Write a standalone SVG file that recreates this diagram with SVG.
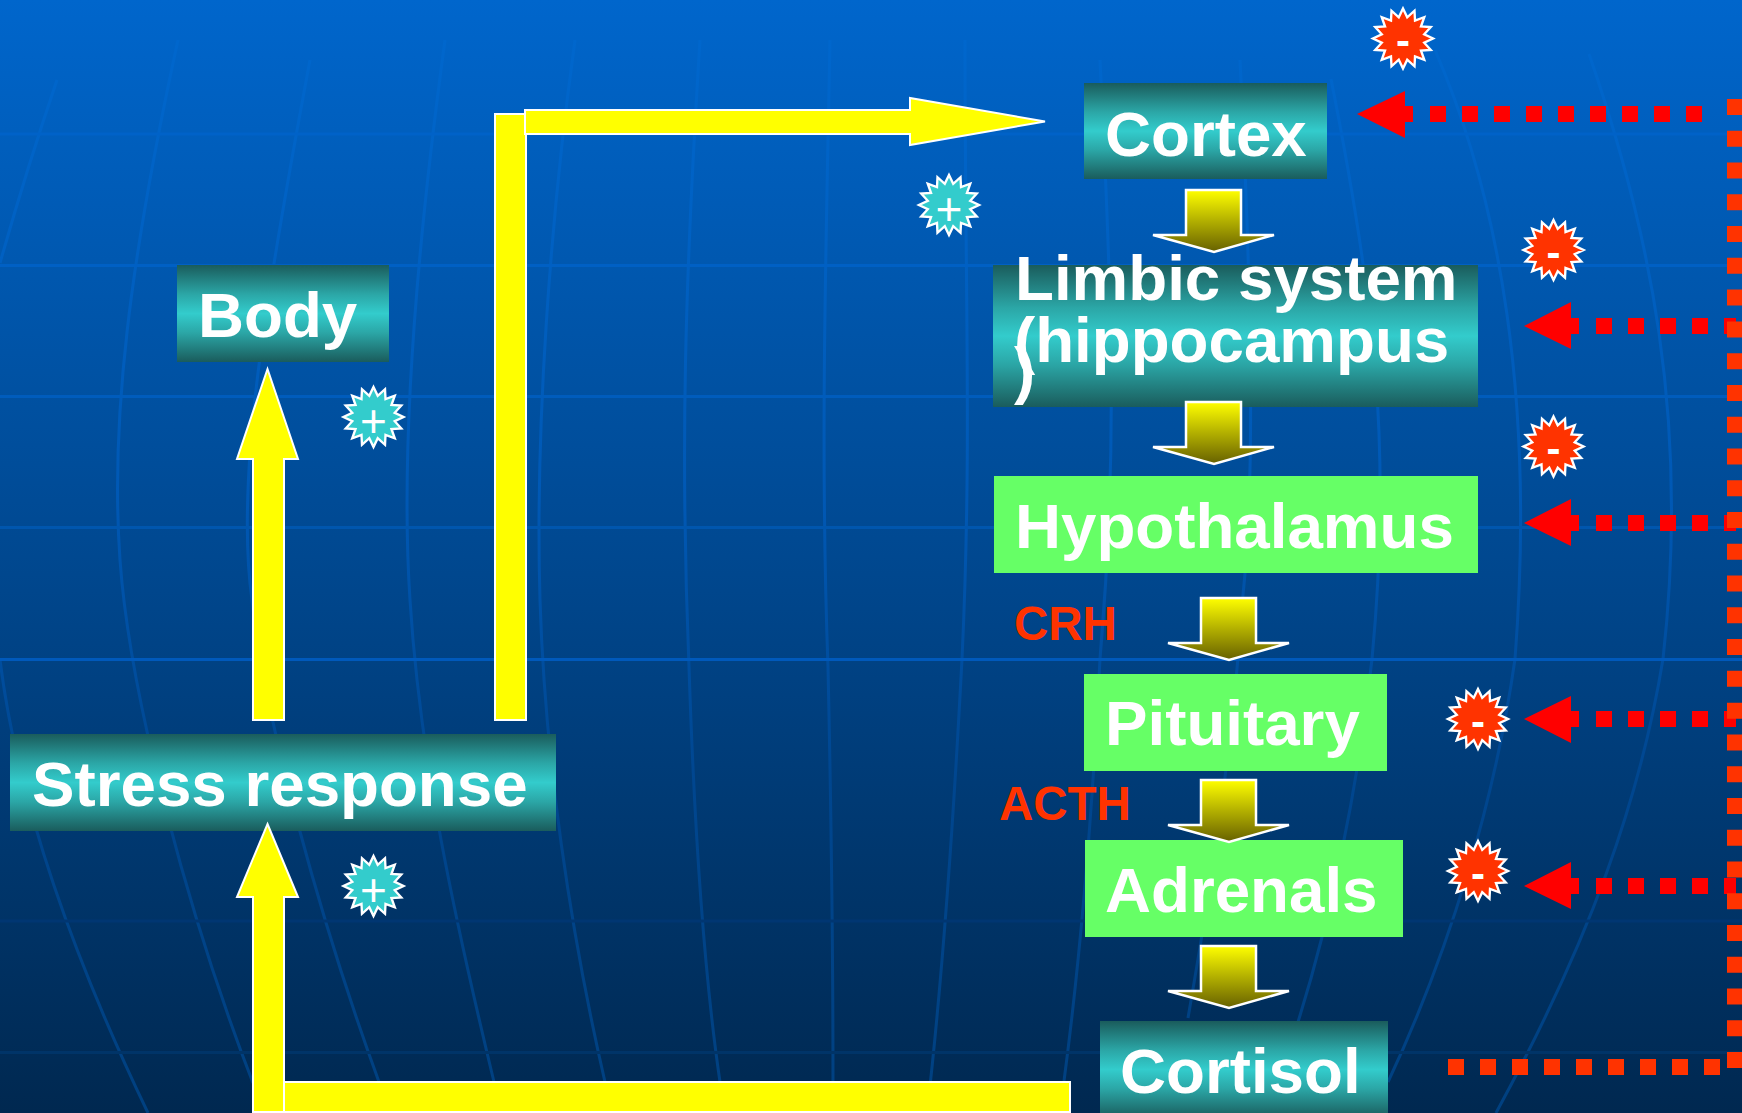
<svg xmlns="http://www.w3.org/2000/svg" width="1742" height="1113" viewBox="0 0 1742 1113">
<defs>
<linearGradient id="bg" x1="0" y1="0" x2="0" y2="1"><stop offset="0" stop-color="#0066cc"/><stop offset="0.5" stop-color="#004890"/><stop offset="1" stop-color="#002850"/></linearGradient>
<linearGradient id="grid" gradientUnits="userSpaceOnUse" x1="0" y1="0" x2="0" y2="1113"><stop offset="0" stop-color="#0068cf"/><stop offset="0.45" stop-color="#0058b4"/><stop offset="0.7" stop-color="#00468f"/><stop offset="1" stop-color="#004080"/></linearGradient>
<linearGradient id="teal" x1="0" y1="0" x2="0" y2="1"><stop offset="0" stop-color="#1a5c5c"/><stop offset="0.3" stop-color="#2ba6a6"/><stop offset="0.5" stop-color="#33cccc"/><stop offset="0.7" stop-color="#2ba6a6"/><stop offset="1" stop-color="#1a5c5c"/></linearGradient>
<linearGradient id="olive" x1="0" y1="0" x2="0" y2="1"><stop offset="0" stop-color="#ffff00"/><stop offset="1" stop-color="#666000"/></linearGradient>
<polygon id="star" transform="scale(.94)" points="0,-32 4.49,-22.56 12.25,-29.56 12.78,-19.12 22.63,-22.63 19.12,-12.78 29.56,-12.25 22.56,-4.49 32,0 22.56,4.49 29.56,12.25 19.12,12.78 22.63,22.63 12.78,19.12 12.25,29.56 4.49,22.56 0,32 -4.49,22.56 -12.25,29.56 -12.78,19.12 -22.63,22.63 -19.12,12.78 -29.56,12.25 -22.56,4.49 -32,0 -22.56,-4.49 -29.56,-12.25 -19.12,-12.78 -22.63,-22.63 -12.78,-19.12 -12.25,-29.56 -4.49,-22.56"/>
<polygon id="down" points="-28,0 27,0 27,45 60,45 0,62 -61,45 -28,45"/>
</defs>
<style>
.lbl{font-family:"Liberation Sans",Arial,sans-serif;font-weight:700;font-size:63.7px;fill:#fff}
.hormone{font-family:"Liberation Sans",Arial,sans-serif;font-weight:700;font-size:47.5px;fill:#ff3300}
.sign{font-family:"Liberation Sans",Arial,sans-serif;font-weight:700;font-size:42px;fill:#fff;text-anchor:middle}
.signp{font-family:"Liberation Sans",Arial,sans-serif;font-weight:400;font-size:46px;fill:#fff;text-anchor:middle}
.teal{fill:url(#teal)}
.green{fill:#66ff66}
.yellow{fill:#ffff00;stroke:#fff;stroke-width:2}
.olive{fill:url(#olive);stroke:#fff;stroke-width:2.5}
.minus{fill:#ff3300;stroke:#fff;stroke-width:2.5}
.plus{fill:#33cccc;stroke:#fff;stroke-width:2.5}
.head{fill:#ff0000}
.dash{stroke:#ff0000;stroke-width:16;stroke-dasharray:16 16;fill:none}
.grid{fill:none;stroke:url(#grid);stroke-width:3}
</style>
<rect width="1742" height="1113" fill="url(#bg)"/>
<g id="background-grid">
<path class="grid" d="M57,80C40,130 15,210 0,263M0,660C15,780 60,930 148,1113M178,40C130,260 110,420 120,560C130,700 190,920 253,1083M310,60C265,300 235,480 252,600C265,720 320,920 379,1082M445,40C415,260 400,450 410,600C420,760 455,920 494,1082M575,40C550,220 535,430 540,600C545,760 570,930 605,1082M700,40C685,280 680,450 689,667C695,850 705,980 720,1082M830,40C826,250 820,450 828,667C832,850 833,1000 833,1082M965,40C965,300 972,450 962,659C952,850 940,1000 927,1113M1100,60C1112,300 1118,450 1100,659C1092,820 1080,960 1064,1081M1240,60C1252,300 1255,480 1243,595C1232,760 1205,920 1188,1018M1331,79C1375,300 1392,450 1372,659C1358,790 1330,920 1298,1022M1435,50C1500,200 1535,400 1515,659C1495,800 1450,950 1388,1082M1589,54C1650,230 1690,420 1663,659C1640,800 1590,940 1496,1113"/>
<rect x="0" y="132.500" width="1742" height="3" fill="#0062c8"/>
<rect x="0" y="264" width="1742" height="3" fill="#0060c4"/>
<rect x="0" y="395" width="1742" height="3" fill="#005cbc"/>
<rect x="0" y="526" width="1742" height="3" fill="#0056ae"/>
<rect x="0" y="658" width="1742" height="3" fill="#0059bb"/>
<rect x="0" y="919.500" width="1742" height="3" fill="#003672"/>
<rect x="0" y="1051" width="1742" height="3" fill="#003468"/>
</g>
<g id="node-cortex"><rect class="teal" x="1084" y="83" width="243" height="96"/><text class="lbl" x="1105" y="156">Cortex</text></g>
<g id="node-limbic"><rect class="teal" x="993" y="265" width="485" height="142"/><text class="lbl" x="1015" y="300">Limbic system</text><text class="lbl" x="1014" y="362">(hippocampus</text><text class="lbl" x="1014" y="392">)</text></g>
<g id="node-hypothalamus"><rect class="green" x="994" y="476" width="484" height="97"/><text class="lbl" x="1015" y="548">Hypothalamus</text></g>
<g id="node-pituitary"><rect class="green" x="1084" y="674" width="303" height="97"/><text class="lbl" x="1105" y="745">Pituitary</text></g>
<g id="node-adrenals"><rect class="green" x="1085" y="840" width="318" height="97"/><text class="lbl" x="1105" y="912">Adrenals</text></g>
<g id="node-cortisol"><rect class="teal" x="1100" y="1021" width="288" height="97"/><text class="lbl" x="1120" y="1093">Cortisol</text></g>
<g id="node-body"><rect class="teal" x="177" y="265" width="212" height="97"/><text class="lbl" x="198" y="337">Body</text></g>
<g id="node-stress"><rect class="teal" x="10" y="734" width="546" height="97"/><text class="lbl" x="32" y="806">Stress response</text></g>
<g id="connectors">
<polygon class="yellow" points="267.500,369 298,459 284,459 284,720 253,720 253,459 237,459"/>
<rect class="yellow" x="495" y="114" width="31" height="606"/>
<polygon class="yellow" points="525,110 910,110 910,98 1045,121.500 910,145 910,134 525,134"/>
<polygon class="yellow" points="267.500,824 298,897 284,897 284,1112 253,1112 253,897 237,897"/>
<rect class="yellow" x="284" y="1082" width="786" height="30"/>
<use href="#down" class="olive" x="1214" y="190"/>
<use href="#down" class="olive" x="1214" y="402"/>
<use href="#down" class="olive" x="1229" y="598"/>
<use href="#down" class="olive" x="1229" y="780"/>
<use href="#down" class="olive" x="1229" y="946"/>
<polygon class="head" points="1357,114 1405,91 1405,106 1413,106 1413,122 1405,122 1405,138"/>
<path class="dash" d="M1430,114H1718"/>
<polygon class="head" points="1524,326 1571,302 1571,318 1579,318 1579,334 1571,334 1571,349"/>
<path class="dash" d="M1596,326H1736"/>
<polygon class="head" points="1524,523 1571,499 1571,515 1579,515 1579,531 1571,531 1571,546"/>
<path class="dash" d="M1596,523H1736"/>
<polygon class="head" points="1524,719 1571,696 1571,711 1579,711 1579,727 1571,727 1571,743"/>
<path class="dash" d="M1596,719H1736"/>
<polygon class="head" points="1524,886 1571,862 1571,878 1579,878 1579,894 1571,894 1571,909"/>
<path class="dash" d="M1596,886H1736"/>
<path d="M1734.500,99V1070" fill="none" stroke="#ff3300" stroke-width="15" stroke-dasharray="16 15.770"/>
<path d="M1448,1067H1721" fill="none" stroke="#ff3300" stroke-width="16" stroke-dasharray="16 16"/>
</g>
<g id="label-crh"><text class="hormone" x="1014" y="640">CRH</text></g>
<g id="label-acth"><text class="hormone" x="999" y="820">ACTH</text></g>
<g id="sign-1"><use href="#star" class="minus" x="1403" y="38.500"/><text class="sign" x="1403" y="55">-</text></g>
<g id="sign-2"><use href="#star" class="plus" x="949" y="205"/><text class="signp" x="949" y="225">+</text></g>
<g id="sign-3"><use href="#star" class="minus" x="1553.500" y="250"/><text class="sign" x="1553.500" y="267">-</text></g>
<g id="sign-4"><use href="#star" class="minus" x="1553.500" y="446.500"/><text class="sign" x="1553.500" y="463">-</text></g>
<g id="sign-5"><use href="#star" class="minus" x="1478" y="719"/><text class="sign" x="1478" y="736">-</text></g>
<g id="sign-6"><use href="#star" class="minus" x="1478" y="871"/><text class="sign" x="1478" y="888">-</text></g>
<g id="sign-7"><use href="#star" class="plus" x="373.500" y="417"/><text class="signp" x="373.500" y="437">+</text></g>
<g id="sign-8"><use href="#star" class="plus" x="373.500" y="886"/><text class="signp" x="373.500" y="906">+</text></g>
</svg>
